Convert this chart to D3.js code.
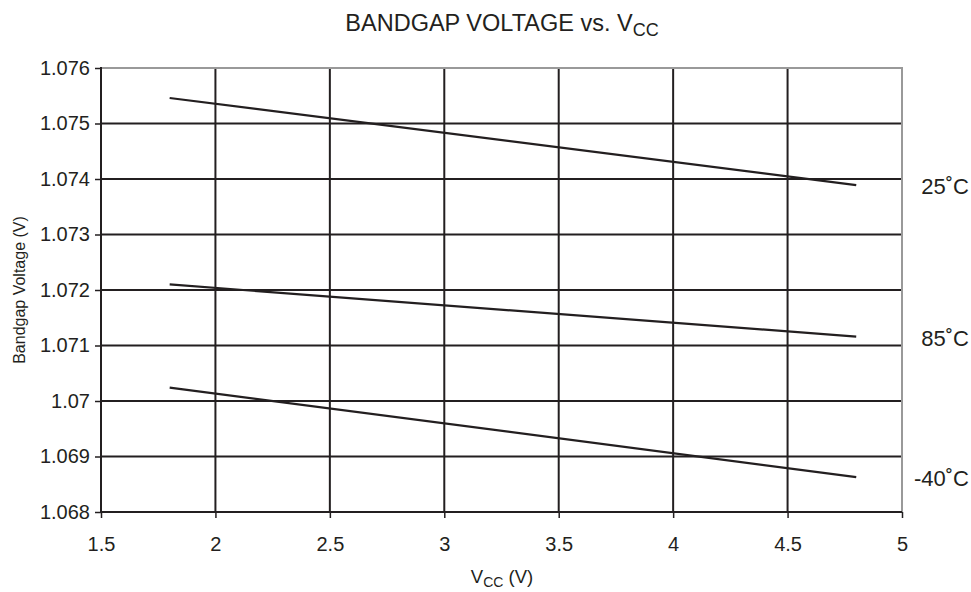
<!DOCTYPE html>
<html><head><meta charset="utf-8">
<script src="https://cdn.jsdelivr.net/npm/d3@7/dist/d3.min.js"></script>
<style>body{margin:0;background:#fff}text{font-family:"Liberation Sans",Arial,sans-serif;fill:#231f20}</style>
</head><body><svg id="c" width="971" height="592"></svg>
<script>
const xTicks = [1.5, 2, 2.5, 3, 3.5, 4, 4.5, 5];
const yTicks = [1.068, 1.069, 1.07, 1.071, 1.072, 1.073, 1.074, 1.075, 1.076];
const yTickLabels = ["1.068","1.069","1.07","1.071","1.072","1.073","1.074","1.075","1.076"];
const vcc = [1.8, 4.8];
const seriesNames = ["25˚C", "85˚C", "-40˚C"];
const v25 = [1.07546, 1.07389];
const v85 = [1.07210, 1.07116];
const vM40 = [1.07024, 1.06863];
const seriesValues = [v25, v85, vM40];

const svg = d3.select("#c");
const L = 101, R = 902, T = 68, B = 512;
const x = d3.scaleLinear().domain([1.5, 5]).range([L, R]);
const y = d3.scaleLinear().domain([1.068, 1.076]).range([B, T]);
const ink = "#231f20";
const FF = '"Liberation Sans",Arial,sans-serif';

// gridlines
const g = svg.append("g");
g.selectAll(".hg").data(yTicks.filter(d => d < 1.0755 && d > 1.0685)).enter().append("line")
  .attr("x1", L).attr("x2", R).attr("y1", d => y(d)).attr("y2", d => y(d))
  .attr("stroke", ink).attr("stroke-width", 2);
g.selectAll(".vg").data(xTicks.filter(d => d > 1.6 && d < 4.9)).enter().append("line")
  .attr("y1", T).attr("y2", B).attr("x1", d => x(d)).attr("x2", d => x(d))
  .attr("stroke", ink).attr("stroke-width", 2);
// top/right border gray
svg.append("path").attr("d", `M${L},${T}H${R}V${B}`).attr("fill", "none")
  .attr("stroke", "#999").attr("stroke-width", 2);

// axes
const yAxis = d3.axisLeft(y).tickValues(yTicks).tickFormat((d, i) => yTickLabels[i]).tickSize(6).tickPadding(5);
const ya = svg.append("g").attr("transform", `translate(${L},0)`).call(yAxis);
const xAxis = d3.axisBottom(x).tickValues(xTicks).tickFormat(d => String(d)).tickSize(6).tickPadding(19);
const xa = svg.append("g").attr("transform", `translate(0,${B})`).call(xAxis);
[ya, xa].forEach(a => {
  a.attr("font-size", 20).attr("font-family", FF);
  a.selectAll(".tick line").attr("stroke", ink).attr("stroke-width", 1.5);
  a.selectAll("text").attr("font-size", 20).attr("fill", ink).style("font-family", FF);
  a.select(".domain").remove();
});
svg.append("line").attr("x1", L).attr("x2", L).attr("y1", T - 1).attr("y2", B + 1).attr("stroke", ink).attr("stroke-width", 2);
svg.append("line").attr("x1", L - 1).attr("x2", R).attr("y1", B).attr("y2", B).attr("stroke", ink).attr("stroke-width", 2);

// series
const line = d3.line().x((d, i) => x(vcc[i])).y(d => y(d));
seriesValues.forEach((vals, k) => {
  svg.append("path").attr("d", line(vals)).attr("fill", "none").attr("stroke", ink).attr("stroke-width", 2.2);
  svg.append("text").attr("x", 969).attr("y", y(vals[vals.length - 1]) + 9)
    .attr("text-anchor", "end").attr("font-size", 22).text(seriesNames[k]);
});

// title
const title = svg.append("text").attr("x", 502).attr("y", 31).attr("text-anchor", "middle").attr("font-size", 23.5);
title.append("tspan").text("BANDGAP VOLTAGE vs. V");
title.append("tspan").attr("font-size", 18).attr("dy", 5).text("CC");

// x axis title
const xt = svg.append("text").attr("x", 502).attr("y", 583).attr("text-anchor", "middle").attr("font-size", 18.5);
xt.append("tspan").text("V");
xt.append("tspan").attr("font-size", 14).attr("dy", 4).text("CC");
xt.append("tspan").attr("dy", -4).text(" (V)");

// y axis title
svg.append("text").attr("transform", `translate(25,${(T + B) / 2}) rotate(-90)`)
  .attr("text-anchor", "middle").attr("font-size", 16).text("Bandgap Voltage (V)");
</script></body></html>
